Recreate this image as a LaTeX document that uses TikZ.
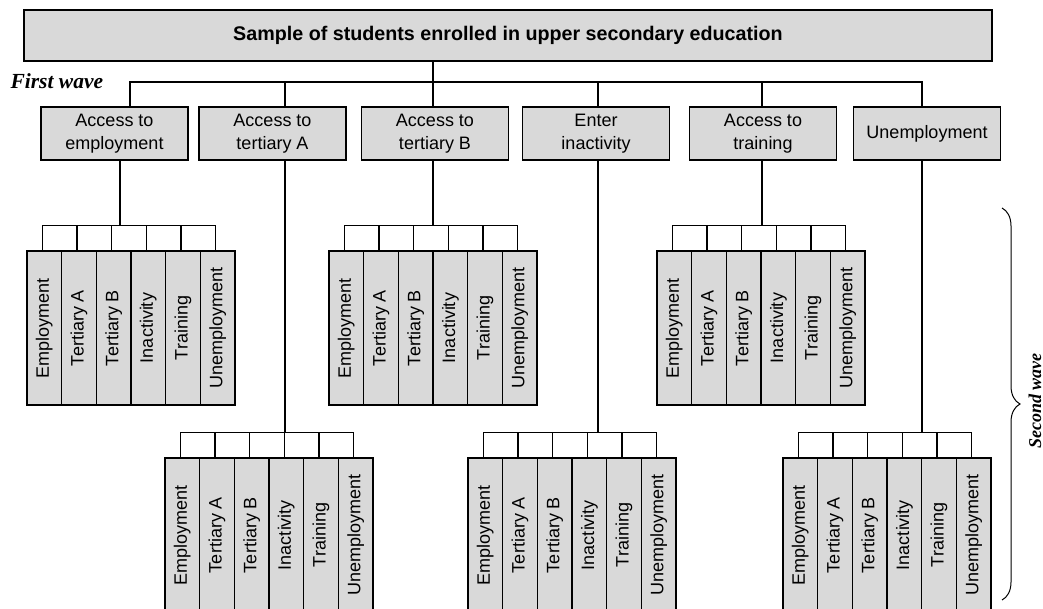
\documentclass[tikz,border=0pt]{standalone}
\usepackage{fontspec}
\setmainfont{Liberation Sans}
\newfontfamily\serifbi{Liberation Serif}
\usepackage{graphicx}
\usetikzlibrary{decorations.pathreplacing}
\definecolor{boxgray}{RGB}{217,217,217}
\newcommand\colgroup[6]{%
  \foreach \lab [count=\i from 0] in {Employment,Tertiary A,Tertiary B,Inactivity,Training,Unemployment}{%
    \node[col] (#1\i) at ({#2+17.33+34.67*\i},{#3+77}) {\rotatebox{90}{\lab}};
    \draw ([xshift=-2pt]#1\i.north) -- ++(0,-25);
  }
  \draw ([xshift=-2pt,yshift=25pt]#10.north) -- ([xshift=-2pt,yshift=25pt]#15.north);
  \draw (#5.south -| #6,0) -- (#6,#4);
}
\begin{document}
\begin{tikzpicture}[x=1pt,y=-1pt,line width=1.1pt,
  box/.style={draw, fill=boxgray, inner sep=0pt, align=center,
    minimum width=147pt, minimum height=53pt, font=\fontsize{18}{23}\selectfont},
  col/.style={draw, fill=boxgray, inner sep=0pt, minimum width=34.67pt,
    minimum height=154pt, font=\fontsize{18}{22}\selectfont},
  wave/.style={font=\serifbi\bfseries\itshape\fontsize{21.5}{24}\selectfont, inner sep=0pt}]
\useasboundingbox (0,0) rectangle (1043,608);
\clip (0,0) rectangle (1043,608);

\node[draw, fill=boxgray, minimum width=968pt, minimum height=51pt, inner sep=0pt,
  font=\bfseries\fontsize{19.7}{23}\selectfont] (title) at (508,35.5)
  {Sample of students enrolled in upper secondary education};

\node[wave, anchor=base west] (fw) at (10,88) {First wave};

\node[box] (b1) at (114.5,133.5) {Access to\\employment};
\node[box] (b2) at (272.5,133.5) {Access to\\tertiary A};
\node[box] (b3) at (435,133.5) {Access to\\tertiary B};
\node[box] (b4) at (596,133.5) {Enter\\inactivity};
\node[box] (b5) at (763,133.5) {Access to\\training};
\node[box] (b6) at (927,133.5) {Unemployment};

\draw (title.south -| 433,0) -- (433,82);
\draw (b1.north -| 130,0) -- (130,82) -- (922,82) -- (b6.north -| 922,0);
\draw (b2.north -| 285,0) -- (285,82);
\draw (b3.north -| 433,0) -- (433,82);
\draw (b4.north -| 598,0) -- (598,82);
\draw (b5.north -| 762,0) -- (762,82);

\colgroup{ga}{27}{251}{226}{b1}{120}
\colgroup{gc}{329}{251}{226}{b3}{433}
\colgroup{ge}{657}{251}{226}{b5}{762}
\colgroup{gb}{165}{458}{433}{b2}{285}
\colgroup{gd}{468}{458}{433}{b4}{598}
\colgroup{gf}{783}{458}{433}{b6}{922}

\coordinate (brtop) at (1002,208);
\coordinate (brbot) at (1002,600);
\draw[line width=1pt, decorate, decoration={brace, amplitude=18pt}] (brtop) -- (brbot);
\node[wave, font=\serifbi\bfseries\itshape\fontsize{18}{22}\selectfont, rotate=90, anchor=base] (sw) at (1041,401) {Second wave};
\end{tikzpicture}
\end{document}
